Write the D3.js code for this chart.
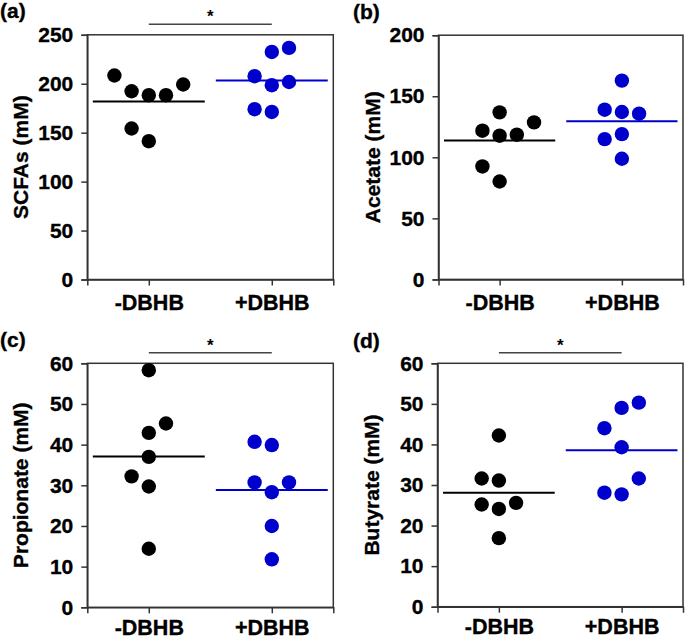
<!DOCTYPE html>
<html>
<head>
<meta charset="utf-8">
<script src="https://cdn.jsdelivr.net/npm/d3@7"></script>
<style>
  body { margin: 0; background: #fff; }
  svg { display: block; }
  text { font-family: "Liberation Sans", Arial, Helvetica, sans-serif; font-weight: bold; }
</style>
</head>
<body>
<svg id="chart" width="685" height="640"></svg>
<script>
// ---------- data ----------
const groups = ["-DBHB", "+DBHB"];

const scfaMinus  = [208.4, 192.3, 188.3, 188.3, 199.2, 154.3, 141.3];
const scfaPlus   = [232.5, 236.6, 207.7, 198.5, 201.8, 174.0, 171.2];
const scfaSlotM  = [-2, -1, 0, 1, 2, -1, 0];
const scfaSlotP  = [0, 1, -1, 0, 1, -1, 0];

const acetMinus  = [121.8, 136.8, 117.7, 118.5, 128.6, 92.5, 80.2];
const acetPlus   = [162.8, 139.0, 137.1, 135.7, 114.9, 119.0, 98.8];
const acetSlotM  = [-1, 0, 0, 1, 2, -1, 0];
const acetSlotP  = [0, -1, 0, 1, -1, 0, 0];

const propMinus  = [58.3, 45.2, 42.9, 37.0, 32.2, 29.7, 14.4];
const propPlus   = [40.7, 39.9, 30.7, 30.7, 28.3, 20.0, 11.8];
const propSlotM  = [0, 1, 0, 0, -1, 0, 0];
const propSlotP  = [-1, 0, -1, 1, 0, 0, 0];

const butMinus   = [42.2, 31.6, 31.1, 25.2, 24.1, 25.6, 16.9];
const butPlus    = [49.0, 50.3, 44.0, 39.3, 31.6, 28.1, 27.7];
const butSlotM   = [0, -1, 0, -1, 0, 1, 0];
const butSlotP   = [0, 1, -1, 0, 1, -1, 0];

const ticksScfa  = [0, 50, 100, 150, 200, 250];
const ticksAcet  = [0, 50, 100, 150, 200];
const ticksSmall = [0, 10, 20, 30, 40, 50, 60];

const panels = [
  { label: "(a)", title: "SCFAs (mM)",      minus: scfaMinus, plus: scfaPlus, slotM: scfaSlotM, slotP: scfaSlotP, ticks: ticksScfa,  sig: "*",
    box: {x: 87.3, y: 34.8, w: 246, h: 244.7}, labelX: 0,   labelY: 17.5, xPad: 9 },
  { label: "(b)", title: "Acetate (mM)",    minus: acetMinus, plus: acetPlus, slotM: acetSlotM, slotP: acetSlotP, ticks: ticksAcet,  sig: null,
    box: {x: 438.5, y: 35.2, w: 244.5, h: 244.2}, labelX: 353, labelY: 19, xPad: 9 },
  { label: "(c)", title: "Propionate (mM)", minus: propMinus, plus: propPlus, slotM: propSlotM, slotP: propSlotP, ticks: ticksSmall, sig: "*",
    box: {x: 87.3, y: 363.3, w: 246, h: 244}, labelX: 0,   labelY: 347, xPad: 6.5 },
  { label: "(d)", title: "Butyrate (mM)",   minus: butMinus,  plus: butPlus,  slotM: butSlotM,  slotP: butSlotP,  ticks: ticksSmall, sig: "*",
    box: {x: 437.5, y: 363.3, w: 245.5, h: 243.4}, labelX: 353, labelY: 347.5, xPad: 6.5 }
];

const colors = { "-DBHB": "#000000", "+DBHB": "#0000cc" };
const axisColor = "#333333";

const svg = d3.select("#chart");

function styleText(sel, size) {
  sel.attr("font-size", size).attr("fill", "#000")
     .attr("font-family", "Liberation Sans, Arial, sans-serif").attr("font-weight", "bold")
     .attr("stroke", "#000").attr("stroke-width", 0.35);
}

panels.forEach(p => {
  const b = p.box;
  const x = d3.scalePoint().domain(groups).range([b.x, b.x + b.w]).padding(0.5);
  const y = d3.scaleLinear().domain([0, d3.max(p.ticks)]).range([b.y + b.h, b.y]);
  const slotW = 17.2;
  const halfMean = x.step() * 0.455;

  const g = svg.append("g");

  // frame
  g.append("rect")
    .attr("x", b.x).attr("y", b.y).attr("width", b.w).attr("height", b.h)
    .attr("fill", "none").attr("stroke", axisColor).attr("stroke-width", 1.5);

  // y axis
  const ya = g.append("g").attr("transform", `translate(${b.x},0)`)
    .call(d3.axisLeft(y).tickValues(p.ticks).tickSize(6).tickPadding(8).tickFormat(d3.format("d")));
  ya.select(".domain").attr("stroke", axisColor).attr("stroke-width", 1.5);
  ya.selectAll(".tick line").attr("stroke", axisColor).attr("stroke-width", 1.5);
  styleText(ya.selectAll(".tick text"), 21);

  // x axis
  const xa = g.append("g").attr("transform", `translate(0,${b.y + b.h})`)
    .call(d3.axisBottom(x).tickSize(6).tickPadding(p.xPad));
  xa.select(".domain").attr("stroke", axisColor).attr("stroke-width", 1.5);
  xa.selectAll(".tick line").attr("stroke", axisColor).attr("stroke-width", 1.5);
  styleText(xa.selectAll(".tick text"), 21.5);

  // y title
  styleText(g.append("text")
    .attr("transform", `translate(${b.x - 59},${b.y + b.h / 2}) rotate(-90)`)
    .attr("text-anchor", "middle")
    .text(p.title), 21);

  // panel label
  styleText(g.append("text")
    .attr("x", p.labelX).attr("y", p.labelY)
    .text(p.label), 21);

  // data
  const series = [
    { grp: groups[0], vals: p.minus, slots: p.slotM },
    { grp: groups[1], vals: p.plus,  slots: p.slotP }
  ];
  series.forEach(s => {
    const m = d3.mean(s.vals);
    g.append("line")
      .attr("x1", x(s.grp) - halfMean).attr("x2", x(s.grp) + halfMean)
      .attr("y1", y(m)).attr("y2", y(m))
      .attr("stroke", colors[s.grp]).attr("stroke-width", 2);
    g.selectAll(null).data(s.vals).enter().append("circle")
      .attr("cx", (d, i) => x(s.grp) + s.slots[i] * slotW)
      .attr("cy", d => y(d))
      .attr("r", 7.2)
      .attr("fill", colors[s.grp]);
  });

  // significance bar
  if (p.sig) {
    const yb = b.y - 10.5;
    g.append("line")
      .attr("x1", x(groups[0])).attr("x2", x(groups[1]))
      .attr("y1", yb).attr("y2", yb)
      .attr("stroke", "#444").attr("stroke-width", 1.5);
    g.append("text")
      .attr("x", (x(groups[0]) + x(groups[1])) / 2)
      .attr("y", yb - 2)
      .attr("text-anchor", "middle")
      .attr("font-size", 17)
      .attr("fill", "#000")
      .text(p.sig);
  }
});
</script>
</body>
</html>
